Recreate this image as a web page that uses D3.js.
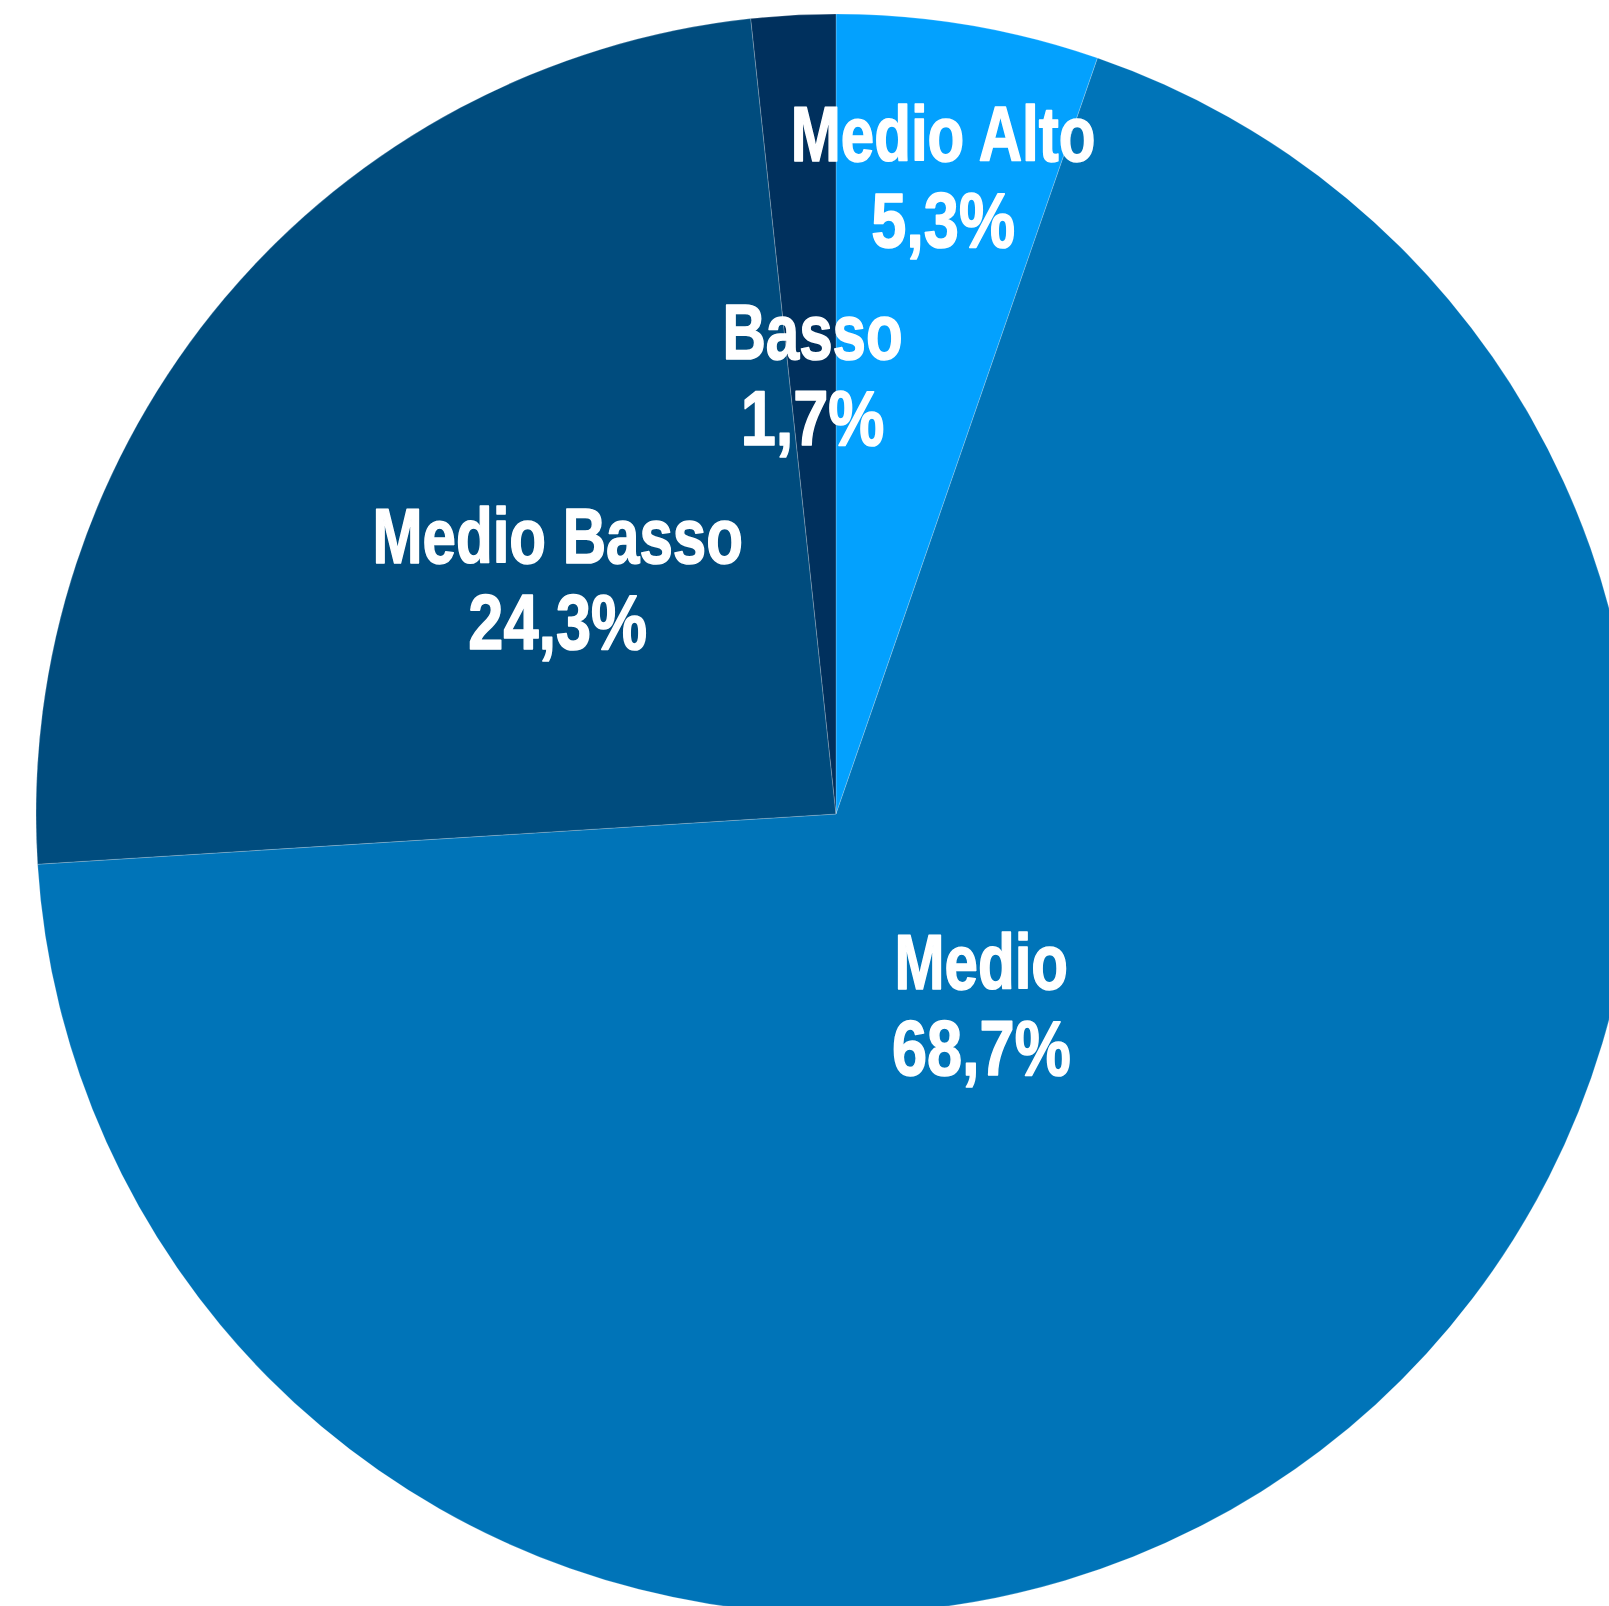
<!DOCTYPE html>
<html>
<head>
<meta charset="utf-8">
<script src="https://cdn.jsdelivr.net/npm/d3@7"></script>
<style>
  html, body { margin: 0; padding: 0; background: #fff; }
  svg { display: block; }
  .lbl text { font-family: "Liberation Sans", Arial, sans-serif; font-weight: bold; fill: #fff; stroke: #fff; stroke-width: 1.6; stroke-linejoin: round; }
</style>
</head>
<body>
<div id="chart"></div>
<script>
const width = 1609, height = 1606;

// data
const categories = ["Medio Alto", "Medio", "Medio Basso", "Basso"];
const shares = [5.3, 68.7, 24.3, 1.7];
const valueLabels = ["5,3%", "68,7%", "24,3%", "1,7%"];

// styles
const colors = ["#03a1fe", "#0074b8", "#004c7e", "#00305d"];
const labelRadius = [0.808, 0.30, 0.455, 0.549]; // fraction of outer radius

const cx = 836, cy = 814, R = 800;

const svg = d3.select("#chart").append("svg")
  .attr("width", width)
  .attr("height", height);

const g = svg.append("g").attr("transform", `translate(${cx},${cy})`);

const pie = d3.pie().sort(null).value(d => d.value);
const data = categories.map((c, i) => ({ name: c, value: shares[i], label: valueLabels[i], i }));
const arcs = pie(data);

const arc = d3.arc().innerRadius(0).outerRadius(R);

g.selectAll("path.slice")
  .data(arcs)
  .join("path")
  .attr("class", "slice")
  .attr("d", arc)
  .attr("fill", d => colors[d.data.i])
  .attr("stroke", "rgba(255,255,255,0.3)")
  .attr("stroke-width", 0.7);

// LABELS (condensed look: squeeze horizontally)
const fs = 77;
const lbl = g.selectAll("g.lbl")
  .data(arcs)
  .join("g")
  .attr("class", "lbl")
  .attr("transform", d => {
    const a = (d.startAngle + d.endAngle) / 2;
    const r = R * labelRadius[d.data.i];
    return `translate(${r * Math.sin(a)},${-r * Math.cos(a)}) scale(0.78,1)`;
  });

lbl.append("text")
  .attr("text-anchor", "middle")
  .attr("font-size", fs)
  .attr("y", -16)
  .text(d => d.data.name);

lbl.append("text")
  .attr("text-anchor", "middle")
  .attr("font-size", fs)
  .attr("y", 70)
  .attr("transform", "scale(1.05,1)")
  .text(d => d.data.label);
</script>
</body>
</html>
